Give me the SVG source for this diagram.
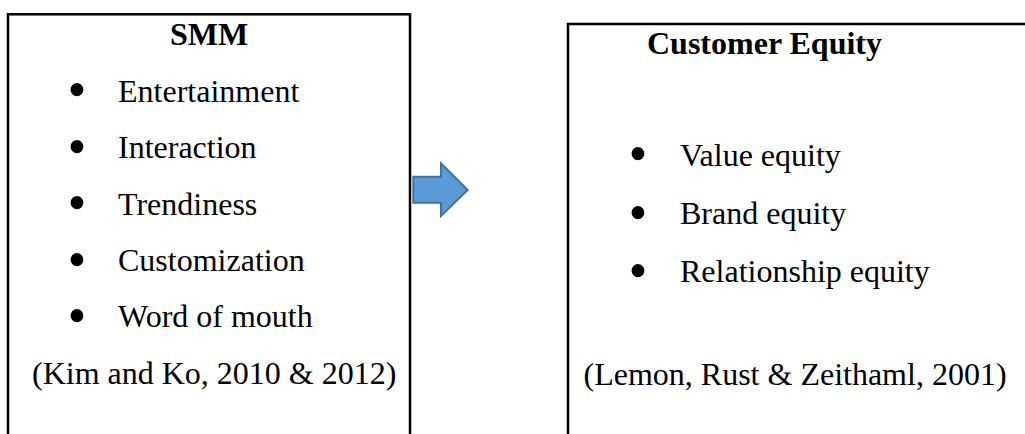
<svg xmlns="http://www.w3.org/2000/svg" width="1025" height="434" viewBox="0 0 1025 434">
<style>
.box{fill:#ffffff;stroke:#000000;stroke-width:2.5}
.t{font-family:"Liberation Serif","Times New Roman",serif;font-size:32px;fill:#000000}
.b{font-family:"Liberation Serif","Times New Roman",serif;font-size:54px;fill:#000000}
.h{font-weight:bold}
.arrow{fill:#5B9BD5;stroke:#41719C;stroke-width:2}
</style>
<rect x="0" y="0" width="1025" height="434" fill="#ffffff"/>
<g id="smm">
<rect class="box" x="8" y="14.3" width="402" height="500"/>
<text class="t h" x="209" y="45" text-anchor="middle">SMM</text>
<text class="b" x="67.5" y="108">•</text><text class="t" x="118" y="101.5">Entertainment</text>
<text class="b" x="67.5" y="164.5">•</text><text class="t" x="118" y="158">Interaction</text>
<text class="b" x="67.5" y="221">•</text><text class="t" x="118" y="214.5">Trendiness</text>
<text class="b" x="67.5" y="277.5">•</text><text class="t" x="118" y="271">Customization</text>
<text class="b" x="67.5" y="333.5">•</text><text class="t" x="118" y="327">Word of mouth</text>
<text class="t" x="32" y="383.5">(Kim and Ko, 2010 &amp; 2012)</text>
</g>
<g id="customer-equity">
<rect class="box" x="568" y="24" width="600" height="500"/>
<text class="t h" x="647" y="53.5">Customer Equity</text>
<text class="b" x="628.5" y="172.2">•</text><text class="t" x="680" y="165.7">Value equity</text>
<text class="b" x="628.5" y="230.5">•</text><text class="t" x="680" y="224">Brand equity</text>
<text class="b" x="628.5" y="288.5">•</text><text class="t" x="680" y="282">Relationship equity</text>
<text class="t" x="583.5" y="385">(Lemon, Rust &amp; Zeithaml, 2001)</text>
</g>
<g id="connectors">
<polygon class="arrow" points="413.3,176.7 441,176.7 441,163.3 467.7,190 441,216 441,202.7 413.3,202.7"/>
</g>
</svg>
